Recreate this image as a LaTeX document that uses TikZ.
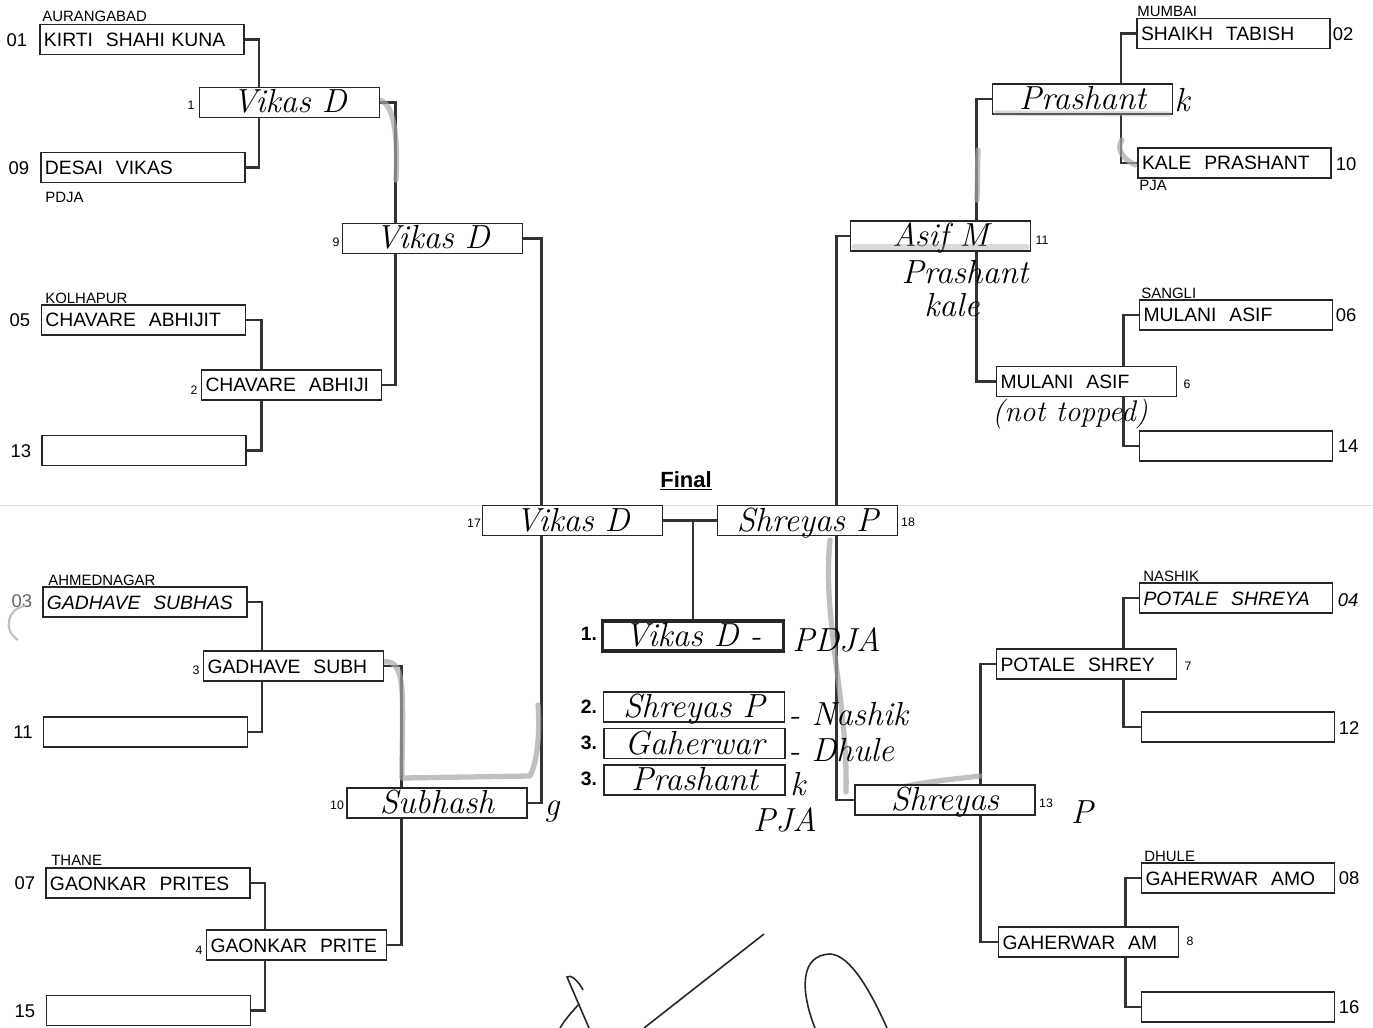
\documentclass[tikz,border=0pt]{standalone}
\usepackage{fontspec}
\setmainfont{Liberation Sans}
\newfontfamily\hwfont{Latin Modern Roman}
\usetikzlibrary{backgrounds}
\tikzset{
  conn/.style={line width=1.4pt, draw=black!80},
  marker/.style={line width=3pt, draw=black!35, opacity=0.7, line cap=round, line join=round},
  pbox/.style={draw=black!85, line width=0.9pt, fill=white, inner ysep=0pt, inner xsep=0.8mm,
    minimum height=6mm, text height=2.8mm, text depth=0mm, align=left,
    font=\fontsize{11}{12}\selectfont},
  hwbox/.style={pbox, align=center, text height=4.2mm, font=\hwfont\itshape\fontsize{19}{19}\selectfont},
  wA/.style={text width=39.2mm},
  wB/.style={text width=37mm},
  wC/.style={text width=34.4mm},
  resbox/.style={text width=34.6mm},
  seed/.style={inner sep=0pt, font=\fontsize{10.5}{11}\selectfont},
  snum/.style={inner sep=0pt, font=\fontsize{7}{7}\selectfont},
  city/.style={inner sep=0pt, anchor=west, font=\fontsize{8.5}{9}\selectfont},
  hw/.style={inner sep=0pt, font=\hwfont\itshape\fontsize{19}{19}\selectfont},
  rnum/.style={inner sep=0pt, font=\bfseries\fontsize{11}{11}\selectfont},
}
\begin{document}
\begin{tikzpicture}[x=0.2mm,y=-0.2mm]
\useasboundingbox (0,0) rectangle (1373,1028);
\begin{scope}[on background layer]
\fill[white] (0,0) rectangle (1373,1028);
\draw[black!12, line width=0.5pt] (0,505) -- (1373,505);
\end{scope}

% ---------- left round 1
\node[pbox,wA] (a01) at (142,39.5) {KIRTI\ \ SHAHI KUNA};
\node[pbox,wA] (a09) at (143,167.5) {DESAI\ \ VIKAS};
\node[pbox,wA] (a05) at (143.5,320) {CHAVARE\ \ ABHIJIT};
\node[pbox,wA] (a13) at (144,450.5) {};
\node[pbox,wA] (a03) at (145,602) {\itshape GADHAVE\ \ SUBHAS};
\node[pbox,wA] (a11) at (145.5,732) {};
\node[pbox,wA] (a07) at (148,883) {GAONKAR\ \ PRITES};
\node[pbox,wA] (a15) at (148.5,1010.5) {};

% ---------- right round 1
\node[pbox,wB] (b02) at (1233.5,33.5) {SHAIKH\ \ TABISH};
\node[pbox,wB] (b10) at (1234.5,163) {KALE\ \ PRASHANT};
\node[pbox,wB] (b06) at (1236,315) {MULANI\ \ ASIF};
\node[pbox,wB] (b14) at (1236,446) {};
\node[pbox,wB] (b04) at (1236,598) {\itshape POTALE\ \ SHREYA};
\node[pbox,wB] (b12) at (1238,727) {};
\node[pbox,wB] (b08) at (1238,878) {GAHERWAR\ \ AMO};
\node[pbox,wB] (b16) at (1238,1007) {};

% ---------- left round 2
\node[hwbox,wC] (m1) at (289.5,102.5) {Vikas D};
\node[pbox,wC] (m2) at (291.5,385) {CHAVARE\ \ ABHIJI};
\node[pbox,wC] (m3) at (293.5,666) {GADHAVE\ \ SUBH};
\node[pbox,wC] (m4) at (296.5,945) {GAONKAR\ \ PRITE};
% ---------- right round 2
\node[hwbox,wC] (m5) at (1082.5,99) {Prashant};
\node[pbox,wC] (m6) at (1086.5,381.5) {MULANI\ \ ASIF};
\node[pbox,wC] (m7) at (1086.5,664) {POTALE\ \ SHREY};
\node[pbox,wC] (m8) at (1088.5,942) {GAHERWAR\ \ AM};

% ---------- quarter / semi
\node[hwbox,wC] (q9) at (432.5,238.5) {Vikas D};
\node[hwbox,wC] (q10) at (437,803) {Subhash};
\node[hwbox,wC] (q11) at (940.5,236) {Asif M};
\node[hwbox,wC] (q13) at (945,800) {Shreyas};

% ---------- final
\node[hwbox,wC] (f17) at (572.5,520.5) {Vikas D};
\node[hwbox,wC] (f18) at (807.5,520.5) {Shreyas P};
\node[inner sep=0pt, font=\bfseries\fontsize{12.5}{13}\selectfont] (final) at (686,481) {\underline{Final}};

% ---------- results
\node[hwbox,resbox, line width=1.8pt] (r1) at (693,636) {Vikas D -};
\node[hwbox,resbox] (r2) at (694,707) {Shreyas P};
\node[hwbox,resbox] (r3) at (694.5,743.5) {Gaherwar};
\node[hwbox,resbox] (r4) at (694.5,780) {Prashant};
\node[rnum] (n1) at (589,634) {1.};
\node[rnum] (n2) at (589,707) {2.};
\node[rnum] (n3) at (589,743) {3.};
\node[rnum] (n4) at (589,779) {3.};

% ---------- connectors (behind boxes)
\begin{scope}[on background layer]
\draw[conn] (a01.east) -- ++(14,0) |- (a09.east);
\draw[conn] (a05.east) -- ++(15,0) |- (a13.east);
\draw[conn] (a03.east) -- ++(14,0) |- (a11.east);
\draw[conn] (a07.east) -- ++(14,0) |- (a15.east);
\draw[conn] (m1.east) -- ++(15,0) |- (m2.east);
\draw[conn] (m3.east) -- ++(17,0) |- (m4.east);
\draw[conn] (q9.east) -- ++(18,0) |- (q10.east);
\draw[conn] (b02.west) -- ++(-15,0) |- (b10.west);
\draw[conn] (b06.west) -- ++(-15,0) |- (b14.west);
\draw[conn] (b04.west) -- ++(-15,0) |- (b12.west);
\draw[conn] (b08.west) -- ++(-15,0) |- (b16.west);
\draw[conn] (m5.west) -- ++(-15,0) |- (m6.west);
\draw[conn] (m7.west) -- ++(-15,0) |- (m8.west);
\draw[conn] (q11.west) -- ++(-13,0) |- (q13.west);
\draw[conn, line width=2.2pt] (f17.east) -- (f18.west);
\draw[conn] (r1.north) -- (r1.north |- f17.east);
% grey marker strokes
\draw[marker] (383,662) .. controls (408,658) and (402,700) .. (402,778) -- (530,776) .. controls (538,760) and (540,730) .. (538,705);
\draw[marker] (380,100) .. controls (395,105) and (398,140) .. (396,180);
\draw[marker] (830,540) .. controls (822,620) and (848,700) .. (846,792);
\draw[marker] (862,808) .. controls (880,785) and (930,782) .. (980,776);
\draw[marker] (978,150) -- (977,200);
\draw[marker] (1122,140) .. controls (1115,150) and (1125,160) .. (1135,165);
\end{scope}
\draw[marker, opacity=0.4] (854,247) -- (1027,247);
\draw[marker, opacity=0.4] (996,113) -- (1169,114);

% ---------- city labels
\node[city] (cAur) at (42,16) {AURANGABAD};
\node[city] (cPdja) at (45,197) {PDJA};
\node[city] (cKol) at (45,298) {KOLHAPUR};
\node[city] (cAhm) at (48,580) {AHMEDNAGAR};
\node[city] (cTha) at (51,860) {THANE};
\node[city] (cMum) at (1137,11) {MUMBAI};
\node[city] (cPja) at (1139,185) {PJA};
\node[city] (cSan) at (1141,293) {SANGLI};
\node[city] (cNas) at (1143,576) {NASHIK};
\node[city] (cDhu) at (1144,856) {DHULE};

% ---------- seed numbers
\node[seed] (s01) at (17,40) {01};
\node[seed] (s09) at (19,168) {09};
\node[seed] (s05) at (20,320) {05};
\node[seed] (s13) at (21,451) {13};
\node[seed, text=black!60] (s03) at (22,601) {03};
\node[seed] (s11) at (23,732) {11};
\node[seed] (s07) at (25,883) {07};
\node[seed] (s15) at (25,1011) {15};
\node[seed] (s02) at (1343,34) {02};
\node[seed] (s10) at (1346,164) {10};
\node[seed] (s06) at (1346,315) {06};
\node[seed] (s14) at (1348,446) {14};
\node[seed, font=\itshape\fontsize{10.5}{11}\selectfont] (s04) at (1348,600) {04};
\node[seed] (s12) at (1349,728) {12};
\node[seed] (s08) at (1349,878) {08};
\node[seed] (s16) at (1349,1007) {16};

% ---------- match numbers
\node[snum] (k1) at (191,105) {1};
\node[snum] (k2) at (194,390) {2};
\node[snum] (k3) at (196,670) {3};
\node[snum] (k4) at (199,950) {4};
\node[snum] (k9) at (336,242) {9};
\node[snum] (k10) at (337,805) {10};
\node[snum] (k17) at (474,523) {17};
\node[snum] (k18) at (908,522) {18};
\node[snum] (k11) at (1042,240) {11};
\node[snum] (k6) at (1187,384) {6};
\node[snum] (k7) at (1188,666) {7};
\node[snum] (k8) at (1190,941) {8};
\node[snum] (k13) at (1046,803) {13};

% ---------- handwriting outside boxes
\node[hw] (hk) at (1182,100) {k};
\node[hw] (hPr) at (965,272) {Prashant};
\node[hw] (hKa) at (952,305) {kale};
\node[hw, font=\hwfont\itshape\fontsize{17}{17}\selectfont] (hNt) at (1070,414) {(not topped)};
\node[hw] (hg) at (552,812) {g};
\node[hw] (hP) at (1082,812) {P};
\node[hw, anchor=west] (hPdja) at (792,640) {PDJA};
\node[hw, anchor=west] (hNas) at (788,714) {- Nashik};
\node[hw, anchor=west] (hDhu) at (788,750) {- Dhule};
\node[hw] (hK2) at (798,784) {k};
\node[hw] (hPja) at (785,820) {PJA};

% ---------- signature and stray marks
\draw[line width=0.9pt, black!85] (560,1028) .. controls (566,1018) and (572,1012) .. (579,1004);
\draw[line width=0.9pt, black!85] (589,1028) -- (567,977) .. controls (570,974) and (578,980) .. (583,990);
\draw[line width=0.9pt, black!85] (644,1028) -- (764,934);
\draw[line width=0.9pt, black!85] (815,1028) .. controls (800,990) and (800,955) .. (830,954) .. controls (850,955) and (870,990) .. (887,1028);
\draw[black!25, line width=1.2pt] (25,606) .. controls (8,608) and (2,630) .. (18,640);
\end{tikzpicture}
\end{document}
